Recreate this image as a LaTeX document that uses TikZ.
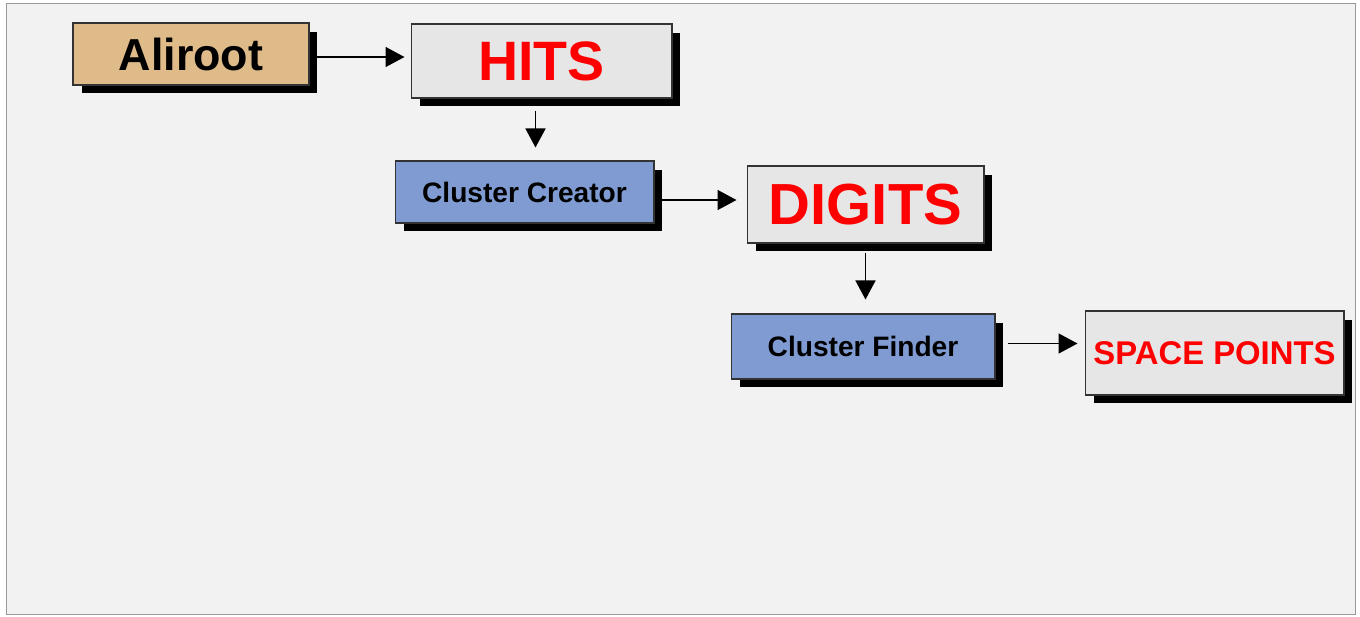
\documentclass[tikz,border=0pt]{standalone}
\usepackage{fontspec}
\setmainfont{Liberation Sans}
\usetikzlibrary{arrows.meta,shadows}
\definecolor{pagebg}{HTML}{F2F2F2}
\definecolor{tan}{HTML}{DEBB88}
\definecolor{datagray}{HTML}{E6E6E6}
\definecolor{procblue}{HTML}{7F9BD1}
\tikzset{
  box/.style={draw=black!80, line width=0.6pt, rectangle, inner sep=0pt,
    font=\bfseries,
    drop shadow={shadow xshift=0.17cm, shadow yshift=-0.17cm, fill=black, opacity=1}},
  databox/.style={box, fill=datagray, text=red},
  procbox/.style={box, fill=procblue},
  flow/.style={-{Triangle[length=0.38cm,width=0.4cm]}, line width=0.9pt}
}
\begin{document}
\begin{tikzpicture}[x=0.02cm, y=-0.02cm]
        \useasboundingbox (0, 0) rectangle (1360, 616);
        \draw[fill=pagebg, draw=black!40] (6, 3) rectangle (1355, 614);

        \node [box, fill=tan, minimum width=4.72cm, minimum height=1.24cm] (Aliroot) at (191, 54) {\fontsize{25.5}{28}\selectfont Aliroot};
        \node [databox, minimum width=5.22cm, minimum height=1.48cm] (Hits) at (541.5, 61) {\fontsize{31.6}{34}\selectfont HITS};
        \node [procbox, minimum width=5.18cm, minimum height=1.24cm] (Creator) at (524.5, 192) {\fontsize{16}{18}\selectfont Cluster Creator};
        \node [databox, minimum width=4.74cm, minimum height=1.54cm] (Digits) at (865.5, 204.5) {\fontsize{33}{36}\selectfont DIGITS};
        \node [procbox, minimum width=5.28cm, minimum height=1.3cm] (Finder) at (863, 346.5) {\fontsize{16}{18}\selectfont Cluster Finder};
        \node [databox, minimum width=5.18cm, minimum height=1.68cm] (Points) at (1214.5, 353) {\fontsize{18.7}{21}\selectfont SPACE POINTS};

        % Edges
        \draw[flow, shorten <=0.14cm, shorten >=0.12cm] ([shift={(0,3)}]Aliroot.east) -- ([shift={(0,3)}]Aliroot.east -| Hits.west);
        \draw[flow, shorten <=0.24cm, shorten >=0.26cm] ([shift={(-6,0)}]Hits.south) -- ([shift={(-6,0)}]Hits.south |- Creator.north);
        \draw[flow, shorten <=0.12cm, shorten >=0.2cm] ([shift={(0,8)}]Creator.east) -- ([shift={(0,8)}]Creator.east -| Digits.west);
        \draw[flow, shorten <=0.18cm, shorten >=0.28cm] (Digits.south) -- (Digits.south |- Finder.north);
        \draw[flow, shorten <=0.24cm, shorten >=0.14cm] ([shift={(0,-3)}]Finder.east) -- ([shift={(0,-3)}]Finder.east -| Points.west);
    \end{tikzpicture}
\end{document}
